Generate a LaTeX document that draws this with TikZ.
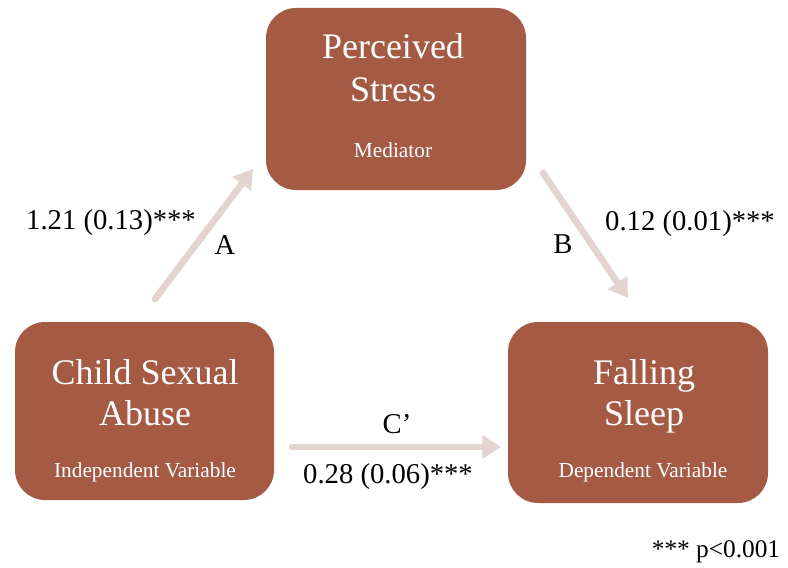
\documentclass[tikz,border=0pt]{standalone}
\usepackage{fontspec}
\setmainfont{Liberation Serif}
\usetikzlibrary{arrows.meta}
\definecolor{boxbrown}{HTML}{A45A43}
\definecolor{arrowpink}{HTML}{E4D4D1}
\tikzset{
  boxnode/.style={fill=boxbrown, draw=none, rounded corners=22.5pt, inner sep=0pt},
  titletext/.style={text=white, anchor=base, inner sep=0pt, font=\fontsize{27}{30}\selectfont},
  subtext/.style={text=white, anchor=base, inner sep=0pt, font=\fontsize{16}{18}\selectfont},
  lbl/.style={text=black, anchor=base, inner sep=0pt, font=\fontsize{21.5}{24}\selectfont},
  conn/.style={draw=arrowpink, line width=5pt, line cap=round,
    -{Triangle[length=14pt,width=17pt]}}
}
\begin{document}
\begin{tikzpicture}[x=0.75pt,y=-0.75pt]
\useasboundingbox (0,0) rectangle (788,567);
% boxes
\path[boxnode] (266,8) rectangle (526,190);
\node[inner sep=0pt, minimum width=260*0.75pt, minimum height=182*0.75pt] (med) at (396,99) {};
\path[boxnode] (15,322) rectangle (274,500);
\node[inner sep=0pt, minimum width=259*0.75pt, minimum height=178*0.75pt] (iv) at (144.5,411) {};
\path[boxnode] (508,322) rectangle (768,503);
\node[inner sep=0pt, minimum width=260*0.75pt, minimum height=181*0.75pt] (dv) at (638,412.5) {};
% box texts
\node[titletext] (t1) at (393,59) {Perceived};
\node[titletext] (t2) at (393,101) {Stress};
\node[subtext] (t3) at (393,157) {Mediator};
\node[titletext] (l1) at (145,384) {Child Sexual};
\node[titletext] (l2) at (145,425) {Abuse};
\node[subtext] (l3) at (145,477) {Independent Variable};
\node[titletext] (r1) at (644,384) {Falling};
\node[titletext] (r2) at (644,425) {Sleep};
\node[subtext] (r3) at (643,477) {Dependent Variable};
% connector endpoints
\coordinate (aS) at (155,299);
\coordinate (aE) at (253,169);
\coordinate (bS) at (543,173);
\coordinate (bE) at (628,298);
\coordinate (cS) at (292,447);
\coordinate (cE) at (501,447);
\draw[conn] (aS) -- (aE);
\draw[conn] (bS) -- (bE);
\draw[conn] (cS) -- (cE);
% labels
\node[lbl] (la) at (111,229) {1.21 (0.13)***};
\node[lbl] (lA) at (225,254) {A};
\node[lbl] (lB) at (563,253) {B};
\node[lbl] (lb) at (690,230) {0.12 (0.01)***};
\node[lbl] (lC) at (397,433) {C’};
\node[lbl] (lc) at (388,483) {0.28 (0.06)***};
\node[lbl, font=\fontsize{19}{21}\selectfont] (p) at (716,557) {*** p<0.001};
\end{tikzpicture}
\end{document}
